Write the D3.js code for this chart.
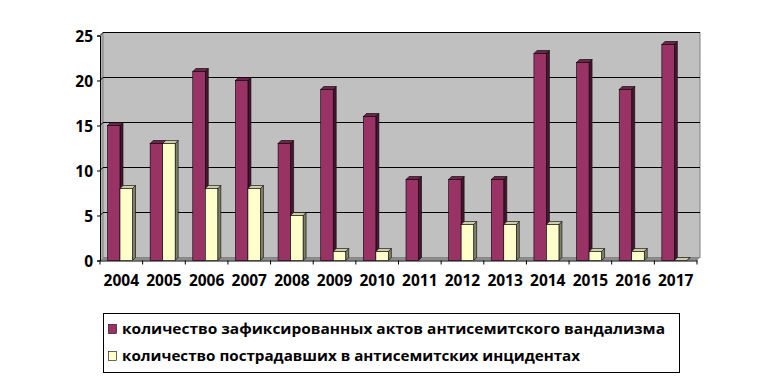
<!DOCTYPE html>
<html><head><meta charset="utf-8">
<script src="https://cdn.jsdelivr.net/npm/d3@7"></script>
<style>body{margin:0;background:#fff}svg{display:block}text{font-family:"Open Sans",sans-serif;font-weight:bold;fill:#000}</style>
</head><body><svg id="c" width="773" height="384"></svg>
<script>
const years = ["2004","2005","2006","2007","2008","2009","2010","2011","2012","2013","2014","2015","2016","2017"];
const vandalism = [15,13,21,20,13,19,16,9,9,9,23,22,19,24];
const victims = [8,13,8,8,5,1,1,null,4,4,4,1,1,0];
const seriesNames = ["количество зафиксированных актов антисемитского вандализма","количество пострадавших в антисемитских инцидентах"];
const yTicks = [0,5,10,15,20,25];

const svg = d3.select("#c");
const dx = 3, dy = 3;
const x = d3.scaleBand().domain(years).range([100, 697]).paddingInner(0).paddingOuter(0);
const yF = d3.scaleLinear().domain([0,25]).range([260.5, 35.5]); // front plane
const yB = v => yF(v) - dy; // back plane
const left = 100, right = 697;

// left wall
svg.append("polygon").attr("points",[[left,yF(25)],[left+dx,yB(25)],[left+dx,yB(0)],[left,yF(0)]].join(" ")).attr("fill","#b0b0b0");
// back wall
svg.append("rect").attr("x",left+dx).attr("y",yB(25)).attr("width",right-left).attr("height",yB(0)-yB(25)).attr("fill","#c0c0c0").attr("stroke","#808080").attr("stroke-width",1);
// floor
svg.append("polygon").attr("points",[[left,yF(0)],[left+dx,yB(0)],[right+dx,yB(0)],[right,yF(0)]].join(" ")).attr("fill","#8c8c8c");
// gridlines
yTicks.filter(t=>t>0).forEach(t=>{
  svg.append("line").attr("x1",left+dx).attr("x2",right+dx).attr("y1",yB(t)).attr("y2",yB(t)).attr("stroke","#000").attr("stroke-width",1);
  svg.append("line").attr("x1",left).attr("x2",left+dx).attr("y1",yF(t)).attr("y2",yB(t)).attr("stroke","#000").attr("stroke-width",1);
});

// axes
const yAxis = d3.axisLeft(yF).tickValues(yTicks).tickSize(3).tickPadding(4);
const gy = svg.append("g").attr("transform",`translate(${left},0)`).call(yAxis);
gy.select(".domain").attr("stroke","#000");
gy.selectAll("text").style("font-size","15.5px").attr("dy","0.36em");

const xAxis = d3.axisBottom(x).tickSize(0).tickPadding(14);
const gx = svg.append("g").attr("transform",`translate(0,${yF(0)})`).call(xAxis);
gx.select(".domain").attr("stroke","#000");
gx.selectAll("text").style("font-size","15.5px");
// category boundary ticks
svg.append("g").selectAll("line").data(years.concat(["end"])).join("line")
  .attr("x1",(d,i)=>left+i*x.bandwidth()).attr("x2",(d,i)=>left+i*x.bandwidth())
  .attr("y1",yF(0)).attr("y2",yF(0)+4).attr("stroke","#000");

// bars
const bw = 12.5, off = 7.5;
const series = [
  {vals:vandalism, front:"#993366", side:"#4a1530", top:"#6b2549"},
  {vals:victims, front:"#ffffcc", side:"#80806a", top:"#ccccaa"}
];
series.forEach((s,si)=>{
  const g = svg.append("g");
  years.forEach((yr,i)=>{
    const v = s.vals[i];
    if (v === null) return;
    const x0 = x(yr) + off + si*bw, x1 = x0 + bw;
    const yt = yF(v), y0 = yF(0);
    g.append("polygon").attr("points",[[x1,yt],[x1+dx,yt-dy],[x1+dx,y0-dy],[x1,y0]].join(" "))
      .attr("fill",s.side).attr("stroke","#000").attr("stroke-width",0.6).attr("stroke-linejoin","round");
    g.append("polygon").attr("points",[[x0,yt],[x0+dx,yt-dy],[x1+dx,yt-dy],[x1,yt]].join(" "))
      .attr("fill",s.top).attr("stroke","#000").attr("stroke-width",0.6).attr("stroke-linejoin","round");
    g.append("rect").attr("x",x0).attr("y",yt).attr("width",bw).attr("height",y0-yt)
      .attr("fill",s.front).attr("stroke","#000").attr("stroke-width",0.6);
  });
});

// legend
const lg = svg.append("g");
lg.append("rect").attr("x",103.5).attr("y",313.5).attr("width",576).attr("height",59).attr("fill","#fff").attr("stroke","#000").attr("stroke-width",1);
const legendTargets = [543, 458];
seriesNames.forEach((n,i)=>{
  const cy = 329 + i*27;
  lg.append("rect").attr("x",108.5).attr("y",cy-4.5).attr("width",8).attr("height",9).attr("fill",series[i].front).attr("stroke","#000").attr("stroke-width",0.6);
  const t = lg.append("text").attr("x",122).attr("y",cy).attr("dy","0.36em").style("font-size","14.5px").text(n);
  const w = t.node().getComputedTextLength();
  if (Math.abs(w - legendTargets[i]) > 3) t.attr("textLength",legendTargets[i]).attr("lengthAdjust","spacingAndGlyphs");
});
</script></body></html>
